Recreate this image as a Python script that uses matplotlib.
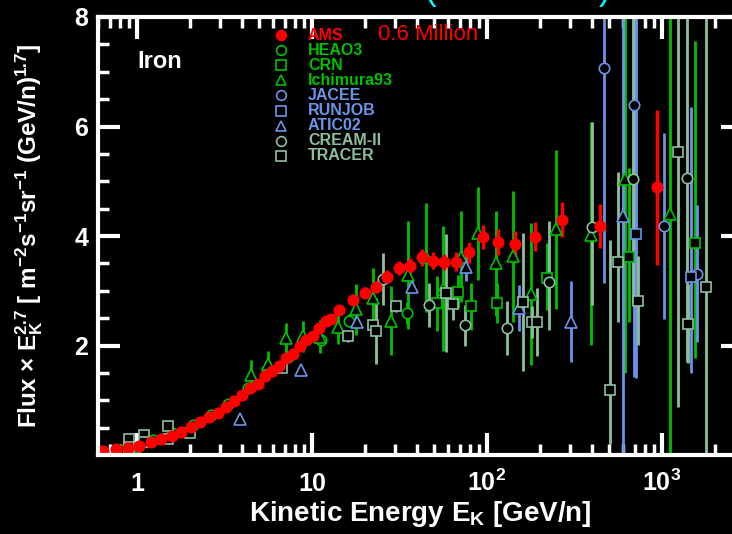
import numpy as np
import matplotlib
matplotlib.use('Agg')
import matplotlib.pyplot as plt

plt.rcParams['font.family'] = ['Liberation Sans', 'DejaVu Sans']
plt.rcParams['font.weight'] = 'bold'
plt.rcParams['axes.labelweight'] = 'bold'
plt.rcParams['mathtext.fontset'] = 'custom'
plt.rcParams['mathtext.rm'] = 'Liberation Sans:bold'
plt.rcParams['mathtext.it'] = 'Liberation Sans:bold'
plt.rcParams['mathtext.bf'] = 'Liberation Sans:bold'

# ---- data (Flux x E^2.7) ----
ams_e = [0.64, 0.755, 0.889, 1.03, 1.197, 1.376, 1.58, 1.79, 2.04, 2.29, 2.59, 2.90, 3.24, 3.57,
         3.98, 4.40, 4.89, 5.38, 5.88, 6.48, 7.10, 7.76, 8.51, 9.25, 10.1, 11.0, 12.0, 12.9, 14.3,
         17.1, 20.0, 23.3, 27.0, 31.4, 36.3, 42.4, 49.1, 56.8, 66.5, 79.2, 94.9, 116, 145, 188,
         269, 442, 942]
ams_v = [0.073, 0.104, 0.133, 0.170, 0.232, 0.286, 0.347, 0.42, 0.505, 0.602, 0.688, 0.77, 0.88,
         0.985, 1.10, 1.217, 1.30, 1.435, 1.526, 1.63, 1.77, 1.85, 1.99, 2.10, 2.17, 2.32, 2.45,
         2.48, 2.65, 2.84, 2.96, 3.06, 3.26, 3.42, 3.45, 3.61, 3.55, 3.52, 3.53, 3.70, 3.98, 3.89,
         3.86, 3.99, 4.30, 4.18, 4.89]
ams_err = [0.02, 0.02, 0.02, 0.02, 0.02, 0.02, 0.02, 0.02, 0.03, 0.03, 0.03, 0.03, 0.03, 0.03,
           0.03, 0.04, 0.04, 0.04, 0.04, 0.04, 0.05, 0.05, 0.05, 0.05, 0.06, 0.06, 0.07, 0.07,
           0.08, 0.1, 0.1, 0.11, 0.12, 0.13, 0.14, 0.15, 0.15, 0.15, 0.17, 0.19, 0.22, 0.23,
           0.24, 0.27, 0.32, 0.40, 1.42]

heao_e = [0.80, 1.0, 1.23, 1.58, 2.10, 2.64, 3.33, 4.29, 5.50, 7.34, 11.3, 16.3, 35.0]
heao_v = [0.09, 0.15, 0.27, 0.40, 0.55, 0.73, 0.93, 1.23, 1.55, 1.79, 2.10, 2.45, 2.60]
heao_err = [0.01, 0.01, 0.01, 0.02, 0.02, 0.03, 0.03, 0.04, 0.05, 0.06, 0.08, 0.12, 0.2]

crn_e = [52, 68.4, 81.3, 114.5, 221, 647, 1549]
crn_v = [2.77, 2.98, 2.73, 2.77, 3.24, 3.62, 3.88]
crn_lo = [0.5, 0.3, 0.45, 0.36, 0.59, 1.19, 2.11]
crn_hi = [0.5, 0.3, 0.42, 0.37, 0.63, 1.62, 3.68]

ichi_e = [4.47, 5.63, 7.10, 8.92, 11.1, 14.1, 17.8, 22.4, 28.2, 35.5, 44.8, 56.3, 71, 88.5, 112,
          141, 178, 248, 395, 618, 1111]
ichi_v = [1.47, 1.67, 2.13, 2.17, 2.16, 2.34, 2.66, 2.86, 2.45, 3.29, 3.61, 3.04, 3.62, 4.05, 3.50,
          3.63, 2.94, 4.12, 4.01, 5.05, 4.40]
ichi_lo = [0.27, 0.23, 0.28, 0.28, 0.30, 0.31, 0.47, 0.56, 0.63, 0.98, 1.0, 1.14, 0.83, 0.85, 0.96,
           1.2, 1.3, 1.45, 2.0, 3.55, 4.36]
ichi_hi = [0.27, 0.23, 0.28, 0.28, 0.30, 0.31, 0.47, 0.56, 0.63, 0.98, 1.0, 1.14, 0.83, 0.85, 0.96,
           1.2, 1.3, 1.45, 2.07, 3.5, 4.0]

jacee_e = [466, 695, 1031, 1585]
jacee_v = [7.07, 6.39, 4.18, 3.31]
jacee_lo = [3.93, 4.96, 1.70, 1.25]
jacee_hi = [1.5, 2.0, 1.70, 1.25]

runjob_e = [706, 1465]
runjob_v = [4.03, 3.25]
runjob_lo = [2.63, 1.76]
runjob_hi = [4.0, 3.11]

atic_e = [3.89, 8.69, 18.2, 37.3, 75.5, 152, 301, 602]
atic_v = [0.66, 1.56, 2.43, 3.07, 3.44, 2.68, 2.43, 4.37]
atic_lo = [0.0, 0.0, 0.05, 0.12, 0.27, 0.42, 0.74, 4.37]
atic_hi = [0.0, 0.0, 0.05, 0.12, 0.27, 0.42, 0.74, 4.0]

cream_e = [25.3, 46.8, 74.6, 130, 226, 396, 686, 1389]
cream_v = [3.21, 2.74, 2.37, 2.32, 3.16, 4.17, 5.05, 5.06]
cream_lo = [0.47, 0.4, 0.37, 0.5, 0.88, 1.43, 2.28, 3.36]
cream_hi = [0.48, 0.4, 0.37, 0.5, 1.12, 1.91, 3.0, 3.0]

tracer_e = [0.90, 0.90, 1.10, 1.10, 1.51, 1.51, 2.01, 6.71, 16.0, 22.4, 23.2, 30.1, 58.0, 64.2,
            160, 180, 194, 508, 561, 726, 1228, 1409, 1791]
tracer_v = [0.30, 0.14, 0.365, 0.24, 0.53, 0.30, 0.40, 1.58, 2.17, 2.37, 2.27, 2.72, 2.96, 2.76,
            2.80, 2.43, 2.43, 1.19, 3.52, 2.82, 5.54, 2.40, 3.07]
tracer_lo = [0, 0, 0, 0, 0, 0, 0, 0.05, 0.1, 0.1, 0.6, 0.1, 1.08, 0.3, 1.26, 0.3, 0.62, 0.98,
             1.09, 0.81, 4.66, 0.72, 3.07]
tracer_hi = [0, 0, 0, 0, 0, 0, 0, 0.05, 0.1, 0.1, 0.6, 0.1, 1.08, 0.3, 1.26, 0.3, 0.62, 2.74,
             1.64, 0.81, 2.46, 0.72, 5.0]

red = '#ff0000'
green = '#00c000'
blue = '#6a94e8'
grey = '#8dbf9f'

fig = plt.figure(figsize=(7.32, 5.34), dpi=100, facecolor='black')
ax = fig.add_axes([98 / 732, 79 / 534, 645 / 732, 438 / 534], facecolor='black')


def draw(e, v, lo, hi, color, marker, face, ms=7.5, elw=2.0):
    ax.errorbar(e, v, yerr=[lo, hi], fmt=marker, color=color, mec=color, mfc=face,
                ms=ms, mew=1.2, elinewidth=elw, capsize=0)


draw(heao_e, heao_v, heao_err, heao_err, green, 'o', 'black')
draw(crn_e, crn_v, crn_lo, crn_hi, green, 's', 'black')
draw(ichi_e, ichi_v, ichi_lo, ichi_hi, green, '^', 'black', ms=8.5)
draw(jacee_e, jacee_v, jacee_lo, jacee_hi, blue, 'o', 'black')
draw(runjob_e, runjob_v, runjob_lo, runjob_hi, blue, 's', 'black')
draw(atic_e, atic_v, atic_lo, atic_hi, blue, '^', 'black', ms=8.5)
draw(cream_e, cream_v, cream_lo, cream_hi, grey, 'o', 'black')
draw(tracer_e, tracer_v, tracer_lo, tracer_hi, grey, 's', 'black')
draw(ams_e, ams_v, ams_err, ams_err, red, 'o', red, ms=7.5, elw=2.5)

ax.set_xscale('log')
ax.set_xlim(0.599, 2904)
ax.set_ylim(0, 8)

for s in ax.spines.values():
    s.set_color('white')
    s.set_linewidth(3)

ax.set_xticks([1, 10, 100, 1000])
ax.set_xticklabels(['1', '10', '$10^2$', '$10^3$'])
ax.set_yticks([2, 4, 6, 8])
ax.set_yticks(np.arange(0.5, 8, 0.5), minor=True)
ax.tick_params(which='both', direction='in', top=True, right=True, colors='white')
ax.tick_params(which='major', length=16, width=3, labelsize=18)
ax.tick_params(which='minor', length=8, width=2.5)
ax.tick_params(axis='x', which='major', pad=26)
ax.tick_params(axis='y', which='major', pad=7)
for lab in ax.get_xticklabels():
    lab.set_va('baseline')

ax.set_xlabel('Kinetic Energy E$_{\\rm K}$ [GeV/n]', color='white', fontsize=20)
ax.xaxis.set_label_coords(0.5, -0.1)
ax.set_ylabel('Flux × E$_{\\rm K}^{2.7}$ [ m$^{-2}$s$^{-1}$sr$^{-1}$ (GeV/n)$^{1.7}$]',
              color='white', fontsize=17.5)
ax.yaxis.set_label_coords(-0.082, 0.5)

ax.text((137 - 98) / 645, (455 - 62) / 438, 'Iron', color='white', fontsize=17,
        transform=ax.transAxes, va='center', ha='left')
ax.text((378 - 98) / 645, (455 - 35) / 438, '0.6 Million', color=red, fontsize=16,
        fontweight='normal', transform=ax.transAxes, va='center', ha='left')

# legend
leg_names = ['AMS', 'HEAO3', 'CRN', 'Ichimura93', 'JACEE', 'RUNJOB', 'ATIC02', 'CREAM-II', 'TRACER']
leg_colors = [red, green, green, green, blue, blue, blue, grey, grey]
leg_markers = ['o', 'o', 's', '^', 'o', 's', '^', 'o', 's']
for i, name in enumerate(leg_names):
    ypx = 35 + i * 15.1
    yy = (455 - ypx) / 438
    face = red if name == 'AMS' else 'black'
    ax.plot([(281 - 98) / 645], [yy], marker=leg_markers[i], color=leg_colors[i], mfc=face,
            ms=7, mew=1.2, transform=ax.transAxes, clip_on=False, linestyle='none')
    ax.text((308 - 98) / 645, yy, name, color=leg_colors[i], fontsize=11.5,
            transform=ax.transAxes, va='center', ha='left')

fig.text(518 / 732, 1.0, '(  AMS-02  )', color='cyan', fontsize=25, fontweight='normal',
         ha='center', va='baseline')

fig.savefig('out.png', dpi=100, facecolor='black')
